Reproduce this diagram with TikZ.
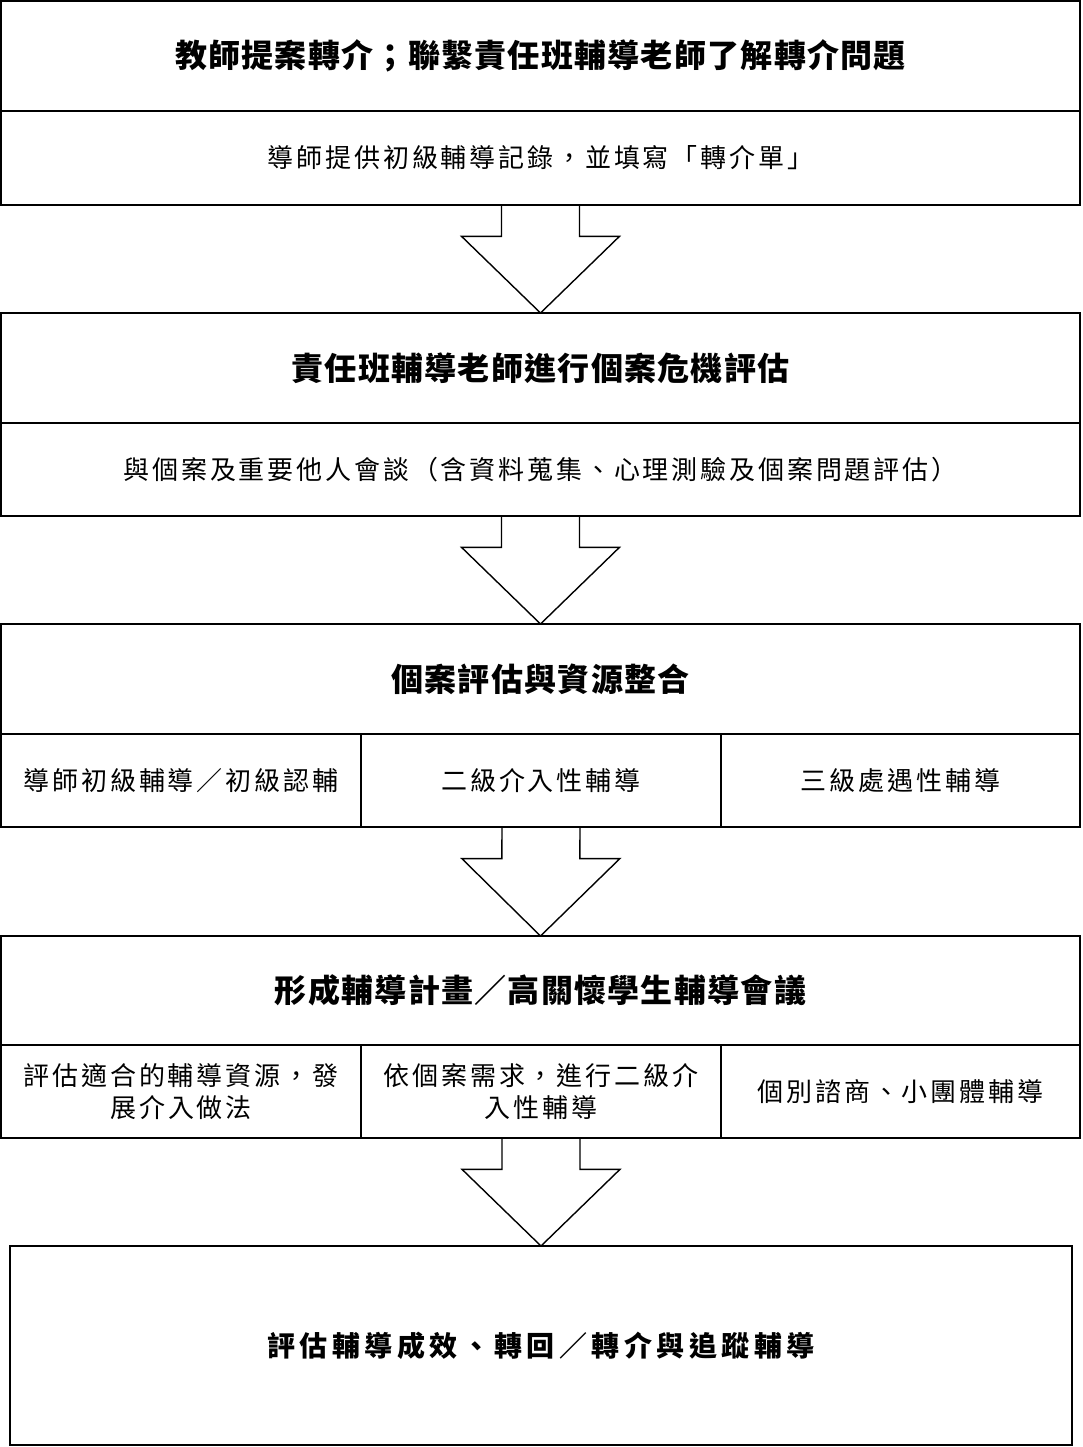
\documentclass[tikz,border=0pt]{standalone}
\usepackage{fontspec}
\usetikzlibrary{calc}
\newfontfamily\cjkT{Noto Sans CJK TC}[LetterSpace=4]
\newfontfamily\cjkS{Noto Sans CJK TC}[LetterSpace=11]
\newfontfamily\cjkU{Noto Sans CJK TC}[LetterSpace=16]
\tikzset{
  boxpart/.style={draw, line width=2pt, inner sep=0pt, outer sep=0pt, anchor=center},
  titlebox/.style={boxpart, minimum width=1079pt, font=\cjkT\bfseries\fontsize{32}{36}\selectfont},
  subbox/.style={boxpart, minimum width=1079pt, font=\cjkS\fontsize{26}{32}\selectfont},
  cellbox/.style={boxpart, minimum height=93pt, align=center, font=\cjkS\fontsize{26}{32}\selectfont},
  finalbox/.style={boxpart, minimum width=1062pt, minimum height=199pt, font=\cjkU\bfseries\fontsize{28}{34}\selectfont},
  blockarr/.style={draw, line width=1.4pt, line join=miter}
}
\begin{document}
\begin{tikzpicture}[x=1pt,y=-1pt]
\useasboundingbox[fill=white] (0,0) rectangle (1082,1447);

% Box 1
\node[titlebox, minimum height=110pt] (b1t) at (540.5,56) {教師提案轉介；聯繫責任班輔導老師了解轉介問題};
\node[subbox, minimum height=94pt] (b1b) at (540.5,158) {導師提供初級輔導記錄，並填寫「轉介單」};

% Box 2
\node[titlebox, minimum height=110pt] (b2t) at (540.5,368) {責任班輔導老師進行個案危機評估};
\node[subbox, minimum height=93pt] (b2b) at (540.5,469.5) {與個案及重要他人會談（含資料蒐集、心理測驗及個案問題評估）};

% Box 3
\node[titlebox, minimum height=110pt] (b3t) at (540.5,679) {個案評估與資源整合};
\node[cellbox, minimum width=360pt] (b3a) at (181,780.5) {導師初級輔導／初級認輔};
\node[cellbox, minimum width=360pt] (b3b) at (541,780.5) {二級介入性輔導};
\node[cellbox, minimum width=359pt] (b3c) at (900.5,780.5) {三級處遇性輔導};

% Box 4
\node[titlebox, minimum height=109pt] (b4t) at (540.5,990.5) {形成輔導計畫／高關懷學生輔導會議};
\node[cellbox, minimum width=360pt] (b4a) at (181,1091.5) {評估適合的輔導資源，發\\展介入做法};
\node[cellbox, minimum width=360pt] (b4b) at (541,1091.5) {依個案需求，進行二級介\\入性輔導};
\node[cellbox, minimum width=359pt] (b4c) at (900.5,1091.5) {個別諮商、小團體輔導};

% Box 5
\node[finalbox] (b5) at (541,1345.5) {評估輔導成效、轉回／轉介與追蹤輔導};

% Block arrows
\foreach \s/\t in {b1b/b2t, b2b/b3t, b3b/b4t, b4b/b5}{
  \draw[blockarr]
    ($(\s.south)+(-39,0)$) --
    ($(\s.south)!0.29!(\t.north)+(-39,0)$) --
    ($(\s.south)!0.29!(\t.north)+(-79,0)$) --
    (\t.north) --
    ($(\s.south)!0.29!(\t.north)+(79,0)$) --
    ($(\s.south)!0.29!(\t.north)+(39,0)$) --
    ($(\s.south)+(39,0)$);
}
\end{tikzpicture}
\end{document}
